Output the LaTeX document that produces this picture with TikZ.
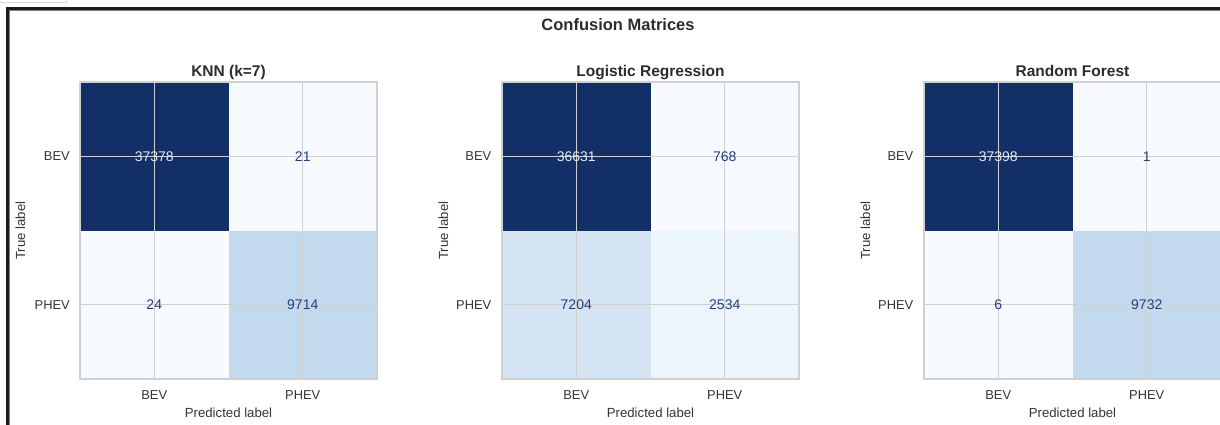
\documentclass[tikz,border=0pt]{standalone}
\usepackage{fontspec}
\setmainfont{Liberation Sans}
\usepackage{xcolor}
\usepackage{tikz}
\usetikzlibrary{positioning}

\definecolor{cmdark}{RGB}{19,47,104}
\definecolor{cmlight}{HTML}{F7FBFF}
\definecolor{cmmid}{HTML}{C3D9EE}
\definecolor{cmlow}{HTML}{D4E4F3}
\definecolor{cmfaint}{HTML}{EDF5FC}
\definecolor{numdark}{RGB}{34,64,128}
\definecolor{numlight}{RGB}{226,232,244}
\definecolor{labelgray}{RGB}{52,52,52}
\definecolor{gridgray}{RGB}{208,208,208}
\definecolor{framedark}{RGB}{28,28,28}

\begin{document}
\begin{tikzpicture}[x=1pt, y=-1pt,
			cell/.style={
					rectangle,
					minimum size=148.5pt,
					inner sep=0pt,
					outer sep=0pt
				},
			num/.style={font=\fontsize{14}{16}\selectfont, text=numdark, inner sep=0pt},
			tick/.style={font=\fontsize{12.9}{15}\selectfont, text=labelgray, inner sep=0pt},
			axlabel/.style={font=\fontsize{13.2}{15}\selectfont, text=labelgray, inner sep=0pt},
			title/.style={font=\bfseries\fontsize{15.5}{18}\selectfont, text=labelgray!85!black, inner sep=0pt},
			suptitle/.style={font=\bfseries\fontsize{16.5}{19}\selectfont, text=labelgray!85!black, inner sep=0pt},
			gridline/.style={draw=gridgray, line width=1.3pt},
			spine/.style={draw=gridgray, line width=1.4pt}
		]
		\useasboundingbox (0,0) rectangle (1220,425);
		% Screenshot frame
		\draw [gray!30, line width=0.8pt] (0,2.2) -- (66,2.2) -- (66,0);
		\draw [framedark, line width=3pt] (7,425) -- (7,8.5) -- (1220,8.5);
		\draw [gray, line width=0.8pt] (8.9,425) -- (8.9,10.4) -- (1220,10.4);
		\node [suptitle, anchor=base] (suptitle) at (618,31) {Confusion Matrices};

		% KNN
		\node [cell, fill=cmdark] (knnbb) at (154.25,156.25) {};
		\node [cell, fill=cmlight, right=0pt of knnbb] (knnbp) {};
		\node [cell, fill=cmlight, below=0pt of knnbb] (knnpb) {};
		\node [cell, fill=cmmid, right=0pt of knnpb] (knnpp) {};
		\draw [gridline] (knnbb.north) -- (knnpb.south);
		\draw [gridline] (knnbp.north) -- (knnpp.south);
		\draw [gridline] (knnbb.west) -- (knnbp.east);
		\draw [gridline] (knnpb.west) -- (knnpp.east);
		\draw [spine] (knnbb.north west) rectangle (knnpp.south east);
		\node [num, text=numlight] (knnbbn) at (knnbb) {37378};
		\node [num] (knnbpn) at (knnbp) {21};
		\node [num] (knnpbn) at (knnpb) {24};
		\node [num] (knnppn) at (knnpp) {9714};
		\node [title, above=5.5pt of knnbb.north east, anchor=base] (knntitle) {KNN (k=7)};
		\node [tick, left=10pt of knnbb] (knnrowbev) {BEV};
		\node [tick, left=10pt of knnpb] (knnrowphev) {PHEV};
		\node [tick, below=11.5pt of knnpb] (knncolbev) {BEV};
		\node [tick, below=11.5pt of knnpp] (knncolphev) {PHEV};
		\node [axlabel, below=38.5pt of knnpb.south east, anchor=base] (knnxlabel) {Predicted label};
		\node [axlabel, rotate=90, left=55pt of knnbb.south west, anchor=base] (knnylabel) {True label};

		% Logistic Regression
		\node [cell, fill=cmdark] (lrbb) at (576.25,156.25) {};
		\node [cell, fill=cmlight, right=0pt of lrbb] (lrbp) {};
		\node [cell, fill=cmlow, below=0pt of lrbb] (lrpb) {};
		\node [cell, fill=cmfaint, right=0pt of lrpb] (lrpp) {};
		\draw [gridline] (lrbb.north) -- (lrpb.south);
		\draw [gridline] (lrbp.north) -- (lrpp.south);
		\draw [gridline] (lrbb.west) -- (lrbp.east);
		\draw [gridline] (lrpb.west) -- (lrpp.east);
		\draw [spine] (lrbb.north west) rectangle (lrpp.south east);
		\node [num, text=numlight] (lrbbn) at (lrbb) {36631};
		\node [num] (lrbpn) at (lrbp) {768};
		\node [num] (lrpbn) at (lrpb) {7204};
		\node [num] (lrppn) at (lrpp) {2534};
		\node [title, above=5.5pt of lrbb.north east, anchor=base] (lrtitle) {Logistic Regression};
		\node [tick, left=10.5pt of lrbb] (lrrowbev) {BEV};
		\node [tick, left=10.5pt of lrpb] (lrrowphev) {PHEV};
		\node [tick, below=11.5pt of lrpb] (lrcolbev) {BEV};
		\node [tick, below=11.5pt of lrpp] (lrcolphev) {PHEV};
		\node [axlabel, below=38.5pt of lrpb.south east, anchor=base] (lrxlabel) {Predicted label};
		\node [axlabel, rotate=90, left=54pt of lrbb.south west, anchor=base] (lrylabel) {True label};

		% Random Forest
		\node [cell, fill=cmdark] (rfbb) at (998.25,156.25) {};
		\node [cell, fill=cmlight, right=0pt of rfbb] (rfbp) {};
		\node [cell, fill=cmlight, below=0pt of rfbb] (rfpb) {};
		\node [cell, fill=cmmid, right=0pt of rfpb] (rfpp) {};
		\draw [gridline] (rfbb.north) -- (rfpb.south);
		\draw [gridline] (rfbp.north) -- (rfpp.south);
		\draw [gridline] (rfbb.west) -- (rfbp.east);
		\draw [gridline] (rfpb.west) -- (rfpp.east);
		\draw [spine] (rfbb.north west) rectangle (rfpp.south east);
		\node [num, text=numlight] (rfbbn) at (rfbb) {37398};
		\node [num] (rfbpn) at (rfbp) {1};
		\node [num] (rfpbn) at (rfpb) {6};
		\node [num] (rfppn) at (rfpp) {9732};
		\node [title, above=5.5pt of rfbb.north east, anchor=base] (rftitle) {Random Forest};
		\node [tick, left=10.5pt of rfbb] (rfrowbev) {BEV};
		\node [tick, left=10.5pt of rfpb] (rfrowphev) {PHEV};
		\node [tick, below=11.5pt of rfpb] (rfcolbev) {BEV};
		\node [tick, below=11.5pt of rfpp] (rfcolphev) {PHEV};
		\node [axlabel, below=38.5pt of rfpb.south east, anchor=base] (rfxlabel) {Predicted label};
		\node [axlabel, rotate=90, left=54pt of rfbb.south west, anchor=base] (rfylabel) {True label};
	\end{tikzpicture}
\end{document}
